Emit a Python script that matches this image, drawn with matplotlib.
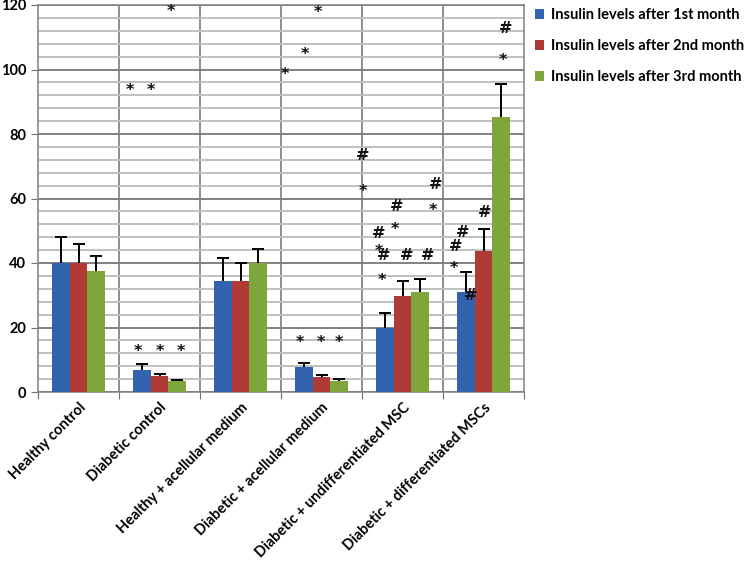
import matplotlib
matplotlib.use("Agg")
import matplotlib.pyplot as plt
from matplotlib.ticker import MultipleLocator
import matplotlib.transforms as mtransforms
import numpy as np

categories = ["Healthy control", "Diabetic control", "Healthy + acellular medium",
              "Diabetic + acellular medium", "Diabetic + undifferentiated MSC",
              "Diabetic + differentiated MSCs"]
series_names = ["Insulin levels after 1st month", "Insulin levels after 2nd month",
                "Insulin levels after 3rd month"]
month1 = [40.0, 6.8, 34.5, 7.6, 19.9, 30.9]
month2 = [40.0, 5.0, 34.5, 4.5, 29.8, 43.8]
month3 = [37.5, 3.4, 39.9, 3.4, 31.1, 85.2]
err1 = [8.2, 1.8, 6.9, 1.4, 4.5, 6.2]
err2 = [5.9, 0.6, 5.5, 0.9, 4.6, 6.6]
err3 = [4.7, 0.4, 4.4, 0.6, 3.8, 10.2]

# significance markers: (symbol, x in category units, y value)
markers = [
    ("*", 0.64, 94.7), ("*", 0.89, 94.7), ("*", 1.14, 119.0),
    ("*", 0.73, 13.7), ("*", 1.0, 13.7), ("*", 1.27, 13.7),
    ("*", 2.55, 99.6), ("*", 2.80, 105.8), ("*", 2.95, 118.8),
    ("*", 2.73, 16.4), ("*", 2.99, 16.4), ("*", 3.22, 16.4),
    ("#", 3.51, 73.4), ("*", 3.51, 63.3),
    ("#", 4.41, 64.4), ("*", 4.38, 57.3),
    ("#", 3.93, 57.5), ("*", 3.90, 51.5),
    ("#", 3.71, 49.2), ("*", 3.71, 44.6),
    ("#", 3.77, 42.3), ("#", 4.05, 42.3), ("#", 4.31, 42.3),
    ("*", 3.75, 35.6),
    ("#", 5.27, 112.6), ("*", 5.24, 103.8),
    ("#", 5.01, 55.8), ("#", 4.74, 49.5), ("#", 4.65, 45.1), ("*", 4.64, 39.4),
    ("#", 4.84, 29.8),
]

colors = ["#3362AE", "#B03A36", "#7EA63A"]

plt.rcParams['font.family'] = ['Lato', 'DejaVu Sans']

fig = plt.figure(figsize=(7.5, 5.63), dpi=100)
ax = fig.add_axes([38/750, 1-392/563, 486/750, 387/563])

x = np.arange(len(categories))
w = 0.222
vals = [month1, month2, month3]
errs = [err1, err2, err3]
for k in range(3):
    pos = x + (k - 1) * w
    ax.bar(pos, vals[k], width=w, color=colors[k], label=series_names[k], zorder=3,
           edgecolor='none')
    _, caps, _ = ax.errorbar(pos, vals[k], yerr=[np.zeros(len(x)), errs[k]], fmt='none',
                             ecolor='black', elinewidth=1.4, capsize=4, capthick=1.4, zorder=4)
    if len(caps) == 2:
        caps[0].set_visible(False)

star_shift = mtransforms.offset_copy(ax.transData, fig=fig, x=0, y=-3.5, units='dots')
for sym, mx, my in markers:
    tr = star_shift if sym == "*" else ax.transData
    ax.text(mx, my, sym, ha='center', va='center', fontsize=11.5, fontweight='bold',
            family='DejaVu Sans', color='#111111', zorder=5, transform=tr)

ax.set_xlim(-0.5, 5.5)
ax.set_ylim(0, 120)
ax.yaxis.set_major_locator(MultipleLocator(20))
ax.yaxis.set_minor_locator(MultipleLocator(4))
ax.grid(which='minor', axis='y', color='#C0C0C0', linewidth=1.4, zorder=0)
ax.grid(which='major', axis='y', color='#808080', linewidth=1.4, zorder=1)
for b in np.arange(0.5, 5.5, 1.0):
    ax.axvline(b, color='#707070', linewidth=1.1, zorder=1)

ax.set_xticks(np.arange(-0.5, 6.0, 1.0))
ax.set_xticklabels([])
ax.set_xticks(x, minor=True)
ax.set_xticklabels(categories, minor=True, rotation=45, ha='right',
                   rotation_mode='anchor', fontsize=10.5, fontweight='bold')
ax.tick_params(axis='x', which='minor', length=0, pad=6)
ax.tick_params(axis='x', which='major', length=5, color='#707070', direction='out')
ax.tick_params(axis='y', which='major', length=5, color='#707070', labelsize=10.5)
ax.tick_params(axis='y', which='minor', length=0)
for lbl in ax.get_yticklabels():
    lbl.set_fontweight('bold')

for s in ax.spines.values():
    s.set_color('#808080')
    s.set_linewidth(1.1)

leg = ax.legend(loc='upper left', bbox_to_anchor=(0.995, 1.025), frameon=False,
                handlelength=0.65, handleheight=0.65, handletextpad=0.45,
                labelspacing=1.15, prop={'weight': 'bold', 'size': 10.5})

fig.savefig("out.png", dpi=100)
